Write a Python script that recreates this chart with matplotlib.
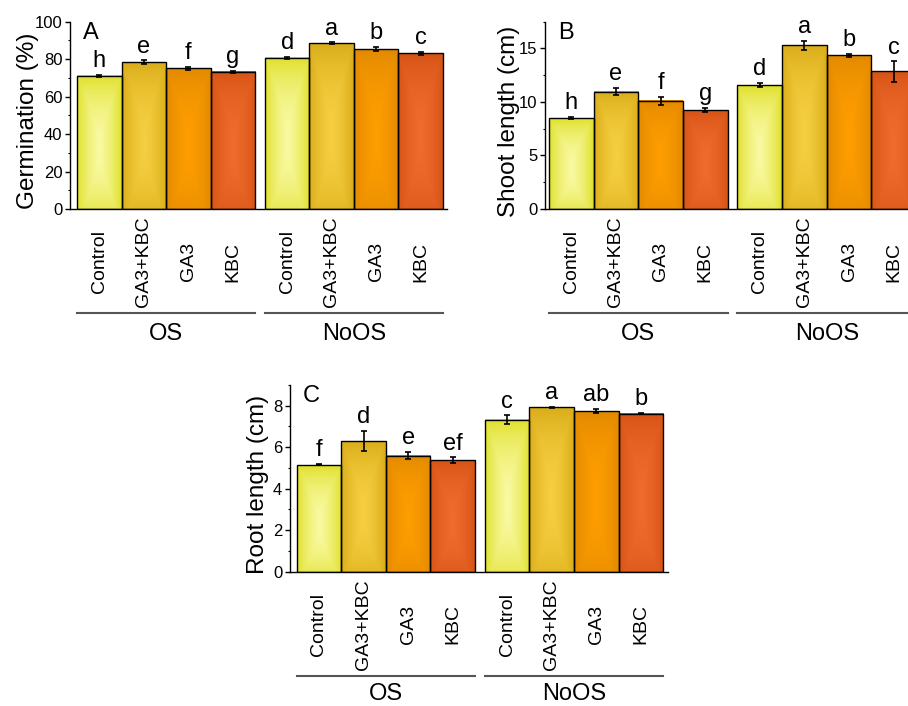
import numpy as np
import matplotlib
matplotlib.use("Agg")
import matplotlib.pyplot as plt
from matplotlib.patches import Rectangle
from matplotlib.ticker import MultipleLocator
import matplotlib.transforms as mtransforms

plt.rcParams['font.family'] = ['Liberation Sans', 'DejaVu Sans']

treatments = ["Control", "GA3+KBC", "GA3", "KBC"]
groups = ["OS", "NoOS"]

germination = [71.2, 78.3, 75.1, 73.3, 80.8, 88.4, 85.4, 83.1]
germination_err = [0.5, 1.0, 0.9, 0.5, 0.5, 0.5, 1.0, 0.7]
germination_sig = ["h", "e", "f", "g", "d", "a", "b", "c"]

shoot = [8.47, 10.96, 10.10, 9.24, 11.58, 15.28, 14.35, 12.85]
shoot_err = [0.1, 0.33, 0.4, 0.22, 0.22, 0.45, 0.15, 0.95]
shoot_sig = ["h", "e", "f", "g", "d", "a", "b", "c"]

root = [5.15, 6.30, 5.60, 5.38, 7.33, 7.92, 7.73, 7.62]
root_err = [0.03, 0.47, 0.18, 0.13, 0.2, 0.02, 0.1, 0.02]
root_sig = ["f", "d", "e", "ef", "c", "a", "ab", "b"]

# (edge colour, centre highlight) for each treatment
bar_colors = [
    ("#dede22", "#fafaa6"),
    ("#d8aa16", "#f6d042"),
    ("#e08800", "#ff9e00"),
    ("#d45214", "#f06c2e"),
]

GAP = 0.22
positions = [i for i in range(4)] + [4 + GAP + i for i in range(4)]


def hex_rgb(h):
    h = h.lstrip("#")
    return np.array([int(h[i:i + 2], 16) / 255 for i in (0, 2, 4)])


def gradient_image(edge, centre, n=80):
    u = np.linspace(-1, 1, n)
    v = np.linspace(-1, 1, n * 2)
    U, V = np.meshgrid(u, v)
    d = np.maximum(np.abs(U), np.abs((V + 0.1) / 1.1) ** 1.5)
    w = np.clip(1 - d, 0, 1) ** 0.7
    e, c = hex_rgb(edge), hex_rgb(centre)
    img = e[None, None, :] + (c - e)[None, None, :] * w[:, :, None]
    return np.clip(img, 0, 1)


def draw_panel(ax, values, errs, sig, ylim, major, minor, ylabel, letter,
               xlim, ylabel_x, line_y, label_y):
    for i, (x, val, err) in enumerate(zip(positions, values, errs)):
        edge, centre = bar_colors[i % 4]
        img = gradient_image(edge, centre)
        ax.imshow(img, extent=[x - 0.5, x + 0.5, 0, val], origin="lower",
                  aspect="auto", interpolation="bilinear", zorder=1)
        ax.add_patch(Rectangle((x - 0.5, 0), 1, val, fill=False,
                               edgecolor="black", lw=1.0, zorder=2))
        ax.errorbar(x, val, yerr=err, fmt="none", ecolor="black",
                    elinewidth=1.2, capsize=2.5, capthick=1.2, zorder=3)
        ax.annotate(sig[i], (x, val + err), xytext=(0, 2),
                    textcoords="offset points", ha="center", va="bottom",
                    fontsize=17, zorder=4)

    ax.set_xlim(*xlim)
    ax.set_ylim(*ylim)
    ax.yaxis.set_major_locator(MultipleLocator(major))
    ax.yaxis.set_minor_locator(MultipleLocator(minor))
    ax.tick_params(axis="y", which="major", direction="out", length=3.5,
                   width=1, labelsize=12, pad=2)
    ax.tick_params(axis="y", which="minor", direction="out", length=1.8,
                   width=0.8)
    ax.set_xticks(positions)
    ax.set_xticklabels(treatments * 2, rotation=90, fontsize=14,
                       va="center")
    ax.tick_params(axis="x", length=0, pad=38)
    for s in ("top", "right"):
        ax.spines[s].set_visible(False)
    for s in ("left", "bottom"):
        ax.spines[s].set_linewidth(1.0)
    ax.set_ylabel(ylabel, fontsize=17.5)
    ax.yaxis.set_label_coords(ylabel_x, 0.47)
    ax.text(0.035, 1.0, letter, transform=ax.transAxes, ha="left",
            va="top", fontsize=17)

    trans = mtransforms.blended_transform_factory(ax.transData, ax.transAxes)
    for g, start in enumerate((0, 4)):
        x0 = positions[start] - 0.5
        x1 = positions[start + 3] + 0.5
        ax.plot([x0, x1], [line_y, line_y], color="#555555", lw=1.5,
                transform=trans, clip_on=False)
        ax.text((x0 + x1) / 2, label_y, groups[g], transform=trans,
                ha="center", va="center", fontsize=17)


fig = plt.figure(figsize=(9.08, 7.06), dpi=100)
W, H = 908, 706


def add_axes(left, right, top, bottom):
    return fig.add_axes([left / W, (H - bottom) / H, (right - left) / W,
                         (bottom - top) / H])


axA = add_axes(70, 447, 21.7, 209)
draw_panel(axA, germination, germination_err, germination_sig, (0, 100),
           20, 10, "Germination (%)", "A", (-0.66, 7.81), -0.082,
           -0.556, -0.665)

axB = add_axes(545, 920, 21.7, 209)
draw_panel(axB, shoot, shoot_err, shoot_sig, (0, 17.5), 5, 2.5,
           "Shoot length (cm)", "B", (-0.59, 7.81), -0.068,
           -0.556, -0.665)

axC = add_axes(290, 668, 385, 571.7)
draw_panel(axC, root, root_err, root_sig, (0, 9), 2, 1,
           "Root length (cm)", "C", (-0.65, 7.83), -0.055,
           -0.56, -0.655)

fig.savefig("out.png", dpi=100)
